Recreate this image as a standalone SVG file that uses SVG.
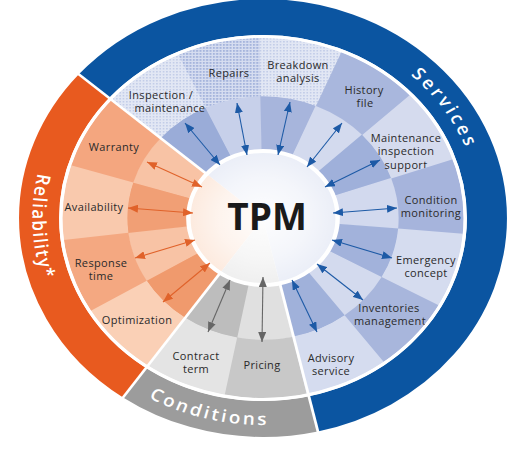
<svg xmlns="http://www.w3.org/2000/svg" width="530" height="450" viewBox="0 0 530 450">
<style>
.in{fill:none;stroke-width:55.5;stroke-dasharray:24.4 335.6}
.out{fill:none;stroke-width:58.5;stroke-dasharray:24.4 335.6}
.band{fill:none;stroke-width:36}
.lb{font-family:"Open Sans","Noto Sans",sans-serif;font-size:11px;letter-spacing:0.35px;fill:#2a2a2a;text-anchor:middle}
.bt{font-family:"Open Sans","Noto Sans",sans-serif;font-size:17px;font-weight:600;fill:#ffffff;letter-spacing:3px;text-anchor:middle}
.sep{stroke:#ffffff;stroke-width:2.5}
.ab{stroke:#1d5aa6;stroke-width:1.1;marker-start:url(#mb);marker-end:url(#mb)}
.ao{stroke:#e0622a;stroke-width:1.1;marker-start:url(#mo);marker-end:url(#mo)}
.ag{stroke:#666666;stroke-width:1.1;marker-start:url(#mg);marker-end:url(#mg)}
</style>
<defs>
<pattern id="dotL" width="3" height="3" patternUnits="userSpaceOnUse"><rect width="3" height="3" fill="#e2e7f4"/><rect width="1.5" height="1.5" fill="#c3cde8"/></pattern>
<pattern id="dotD" width="3" height="3" patternUnits="userSpaceOnUse"><rect width="3" height="3" fill="#d6ddf0"/><rect width="1.8" height="1.8" fill="#a5b4dc"/></pattern>
<radialGradient id="glow"><stop offset="0" stop-color="#ffffff" stop-opacity="0.92"/><stop offset="0.6" stop-color="#ffffff" stop-opacity="0.55"/><stop offset="1" stop-color="#ffffff" stop-opacity="0.15"/></radialGradient>
<marker id="mb" viewBox="0 0 10 8" refX="10" refY="4" markerWidth="10" markerHeight="8" markerUnits="userSpaceOnUse" orient="auto-start-reverse"><path d="M0,0 L10,4 L0,8 z" fill="#1d5aa6"/></marker>
<marker id="mo" viewBox="0 0 10 8" refX="10" refY="4" markerWidth="10" markerHeight="8" markerUnits="userSpaceOnUse" orient="auto-start-reverse"><path d="M0,0 L10,4 L0,8 z" fill="#e0622a"/></marker>
<marker id="mg" viewBox="0 0 10 8" refX="10" refY="4" markerWidth="10" markerHeight="8" markerUnits="userSpaceOnUse" orient="auto-start-reverse"><path d="M0,0 L10,4 L0,8 z" fill="#666666"/></marker>
<path id="pSer" d="M0,-195 A195,195 0 0 1 183.24,66.69"/>
<path id="pRel" d="M-133.06,-158.57 A207,207 0 0 0 -118.73,169.56"/>
<path id="pCon" d="M-179.27,103.5 A207,207 0 0 0 103.5,179.27"/>
</defs>
<rect width="530" height="450" fill="#ffffff"/>

<g id="band-services">
<g transform="translate(263 218) scale(1.114 1)">
<circle class="band" r="201" pathLength="360" stroke="#0b55a1" stroke-dasharray="216 144" stroke-dashoffset="-221"/>
<text class="bt"><textPath href="#pSer" startOffset="51%">Services</textPath></text>
</g>
</g>
<g id="band-reliability">
<g transform="translate(263 218) scale(1.114 1)">
<circle class="band" r="201" pathLength="360" stroke="#e85a1f" stroke-dasharray="96 264" stroke-dashoffset="-125"/>
<text class="bt" style="letter-spacing:1.5px"><textPath href="#pRel" startOffset="50%">Reliability*</textPath></text>
</g>
</g>
<g id="band-conditions">
<g transform="translate(263 218) scale(1.114 1)">
<circle class="band" r="201" pathLength="360" stroke="#9c9c9c" stroke-dasharray="48 312" stroke-dashoffset="-77"/>
<text class="bt" style="letter-spacing:2.5px"><textPath href="#pCon" startOffset="51%">Conditions</textPath></text>
</g>
</g>

<g id="pricing">
<g transform="translate(263 218) scale(1.114 1)">
<circle class="in" r="94.5" pathLength="360" stroke="#e0e0e0" stroke-dashoffset="-77"/>
<circle class="out" r="151" pathLength="360" stroke="#c8c8c8" stroke-dashoffset="-77"/>
</g>
<text class="lb" x="262" y="369">Pricing</text>
</g>
<g id="contract-term">
<g transform="translate(263 218) scale(1.114 1)">
<circle class="in" r="94.5" pathLength="360" stroke="#bdbdbd" stroke-dashoffset="-101"/>
<circle class="out" r="151" pathLength="360" stroke="#e4e4e4" stroke-dashoffset="-101"/>
</g>
<text class="lb" x="196" y="360">Contract</text>
<text class="lb" x="196" y="373.3">term</text>
</g>
<g id="optimization">
<g transform="translate(263 218) scale(1.114 1)">
<circle class="in" r="94.5" pathLength="360" stroke="#f09a6d" stroke-dashoffset="-125"/>
<circle class="out" r="151" pathLength="360" stroke="#fad0b6" stroke-dashoffset="-125"/>
</g>
<text class="lb" x="137" y="324">Optimization</text>
</g>
<g id="response-time">
<g transform="translate(263 218) scale(1.114 1)">
<circle class="in" r="94.5" pathLength="360" stroke="#f8c3a5" stroke-dashoffset="-149"/>
<circle class="out" r="151" pathLength="360" stroke="#f4a881" stroke-dashoffset="-149"/>
</g>
<text class="lb" x="101" y="267">Response</text>
<text class="lb" x="101" y="280.3">time</text>
</g>
<g id="availability">
<g transform="translate(263 218) scale(1.114 1)">
<circle class="in" r="94.5" pathLength="360" stroke="#f19f75" stroke-dashoffset="-173"/>
<circle class="out" r="151" pathLength="360" stroke="#f9c9ad" stroke-dashoffset="-173"/>
</g>
<text class="lb" x="94" y="211">Availability</text>
</g>
<g id="warranty">
<g transform="translate(263 218) scale(1.114 1)">
<circle class="in" r="94.5" pathLength="360" stroke="#f8c3a5" stroke-dashoffset="-197"/>
<circle class="out" r="151" pathLength="360" stroke="#f4a67f" stroke-dashoffset="-197"/>
</g>
<text class="lb" x="114" y="151">Warranty</text>
</g>
<g id="inspection-maintenance">
<g transform="translate(263 218) scale(1.114 1)">
<circle class="in" r="94.5" pathLength="360" stroke="#9aacd8" stroke-dashoffset="-221"/>
<circle class="out" r="151" pathLength="360" stroke="url(#dotL)" stroke-dashoffset="-221"/>
</g>
<text class="lb" x="161" y="98.5">Inspection /</text>
<text class="lb" x="170" y="111.8">maintenance</text>
</g>
<g id="repairs">
<g transform="translate(263 218) scale(1.114 1)">
<circle class="in" r="94.5" pathLength="360" stroke="#c7d0ea" stroke-dashoffset="-245"/>
<circle class="out" r="151" pathLength="360" stroke="url(#dotD)" stroke-dashoffset="-245"/>
</g>
<text class="lb" x="229" y="77">Repairs</text>
</g>
<g id="breakdown-analysis">
<g transform="translate(263 218) scale(1.114 1)">
<circle class="in" r="94.5" pathLength="360" stroke="#a7b5dc" stroke-dashoffset="-269"/>
<circle class="out" r="151" pathLength="360" stroke="url(#dotL)" stroke-dashoffset="-269"/>
</g>
<text class="lb" x="298" y="69">Breakdown</text>
<text class="lb" x="298" y="82.3">analysis</text>
</g>
<g id="history-file">
<g transform="translate(263 218) scale(1.114 1)">
<circle class="in" r="94.5" pathLength="360" stroke="#d3daee" stroke-dashoffset="67"/>
<circle class="out" r="151" pathLength="360" stroke="#a9b7dd" stroke-dashoffset="67"/>
</g>
<text class="lb" x="364" y="94">History</text>
<text class="lb" x="365" y="107.3">file</text>
</g>
<g id="maintenance-inspection-support">
<g transform="translate(263 218) scale(1.114 1)">
<circle class="in" r="94.5" pathLength="360" stroke="#9fb0da" stroke-dashoffset="43"/>
<circle class="out" r="151" pathLength="360" stroke="#d5dbee" stroke-dashoffset="43"/>
</g>
<text class="lb" x="406" y="142">Maintenance</text>
<text class="lb" x="406" y="155.3">inspection</text>
<text class="lb" x="406" y="168.6">support</text>
</g>
<g id="condition-monitoring">
<g transform="translate(263 218) scale(1.114 1)">
<circle class="in" r="94.5" pathLength="360" stroke="#d2d9ee" stroke-dashoffset="19"/>
<circle class="out" r="151" pathLength="360" stroke="#a6b4dc" stroke-dashoffset="19"/>
</g>
<text class="lb" x="431" y="204">Condition</text>
<text class="lb" x="431" y="217.3">monitoring</text>
</g>
<g id="emergency-concept">
<g transform="translate(263 218) scale(1.114 1)">
<circle class="in" r="94.5" pathLength="360" stroke="#a2b2db" stroke-dashoffset="-5"/>
<circle class="out" r="151" pathLength="360" stroke="#d5dcef" stroke-dashoffset="-5"/>
</g>
<text class="lb" x="426" y="264">Emergency</text>
<text class="lb" x="426" y="277.3">concept</text>
</g>
<g id="inventories-management">
<g transform="translate(263 218) scale(1.114 1)">
<circle class="in" r="94.5" pathLength="360" stroke="#d3daee" stroke-dashoffset="-29"/>
<circle class="out" r="151" pathLength="360" stroke="#a8b6dc" stroke-dashoffset="-29"/>
</g>
<text class="lb" x="389" y="312">Inventories</text>
<text class="lb" x="390" y="325.3">management</text>
</g>
<g id="advisory-service">
<g transform="translate(263 218) scale(1.114 1)">
<circle class="in" r="94.5" pathLength="360" stroke="#a0b1da" stroke-dashoffset="-53"/>
<circle class="out" r="151" pathLength="360" stroke="#d5dcef" stroke-dashoffset="-53"/>
</g>
<text class="lb" x="331" y="362">Advisory</text>
<text class="lb" x="331" y="375.3">service</text>
</g>

<g id="separators" transform="translate(263 218) scale(1.114 1)">
<circle r="181.5" fill="none" stroke="#ffffff" stroke-width="3"/>
<line class="sep" x1="14.40" y1="62.36" x2="49.94" y2="216.31"/>
<line class="sep" x1="-36.71" y1="52.43" x2="-127.33" y2="181.85"/>
<line class="sep" x1="-48.30" y1="-41.99" x2="-167.55" y2="-145.65"/>
</g>

<g id="tpm">
<g transform="translate(263 218) scale(1.114 1)">
<circle r="33.5" fill="none" stroke="#e7ebf6" stroke-width="67" pathLength="360" stroke-dasharray="216 144" stroke-dashoffset="-221"/>
<circle r="33.5" fill="none" stroke="#fce6d8" stroke-width="67" pathLength="360" stroke-dasharray="96 264" stroke-dashoffset="-125"/>
<circle r="33.5" fill="none" stroke="#ececec" stroke-width="67" pathLength="360" stroke-dasharray="48 312" stroke-dashoffset="-77"/>
<circle r="67" fill="url(#glow)" stroke="#ffffff" stroke-width="4"/>
</g>
<text x="267" y="230" font-family="'Open Sans','Noto Sans',sans-serif" font-size="37" font-weight="700" fill="#1a1a1a" text-anchor="middle">TPM</text>
</g>

<g id="connectors">
<line class="ab" x1="185" y1="123" x2="220" y2="165"/>
<line class="ab" x1="237" y1="103" x2="247" y2="155"/>
<line class="ab" x1="290" y1="102" x2="278" y2="155"/>
<line class="ab" x1="342" y1="123" x2="307" y2="167"/>
<line class="ab" x1="380" y1="160" x2="325" y2="187"/>
<line class="ab" x1="397" y1="208" x2="333" y2="213"/>
<line class="ab" x1="392" y1="258" x2="332" y2="240"/>
<line class="ab" x1="363" y1="300" x2="317" y2="264"/>
<line class="ab" x1="317" y1="332" x2="292" y2="280"/>
<line class="ag" x1="262" y1="342" x2="263" y2="277"/>
<line class="ag" x1="208" y1="332" x2="230" y2="280"/>
<line class="ao" x1="163" y1="302" x2="210" y2="263"/>
<line class="ao" x1="135" y1="258" x2="195" y2="240"/>
<line class="ao" x1="128" y1="208" x2="193" y2="213"/>
<line class="ao" x1="147" y1="162" x2="202" y2="187"/>
</g>
</svg>
